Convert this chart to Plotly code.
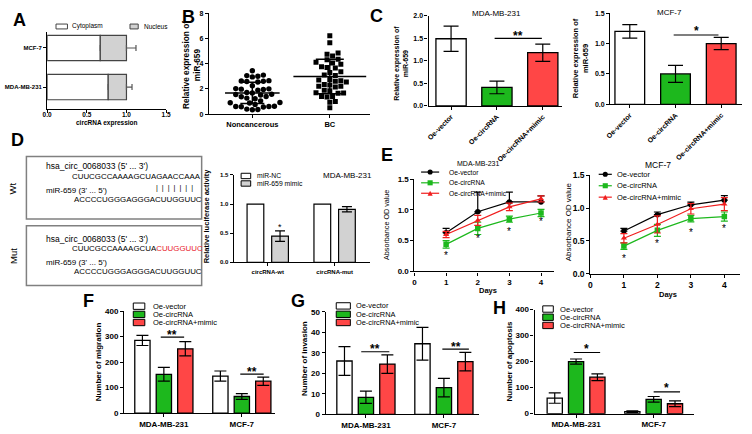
import numpy as np
import plotly.graph_objects as go

W, H = 752, 434
FONT = "Liberation Sans, Arial, sans-serif"
GREEN = "#1db81d"
RED = "#ff4646"
GREY = "#d2d2d2"

# ---------------- data ----------------
# A  subcellular localisation
a_cells = ["MDA-MB-231", "MCF-7"]
a_cyto = [0.77, 0.67]
a_cyto_err = [0.07, 0.12]
a_nucl = [0.23, 0.33]
a_nucl_err = [0.07, 0.12]

# B  miR-659 in tissue
b_groups = ["Noncancerous", "BC"]
b_noncancer = [3.43, 3.09, 3.05, 3.0, 2.95, 2.65, 2.62, 2.6, 2.58, 2.55, 2.25,
               2.02, 2.0, 1.98, 1.95, 1.9, 1.72, 1.68, 1.58, 1.55, 1.52, 1.4, 1.38,
               1.27, 1.22, 1.05, 0.92, 0.9, 0.88, 0.77, 0.62, 0.6, 0.58, 0.6, 0.57,
               0.4, 0.37, 0.35]
b_bc = [6.2, 5.65, 4.85, 4.75, 4.6, 4.35, 4.3, 4.1, 4.05, 3.95, 3.75, 3.7, 3.65,
        3.35, 3.3, 3.1, 3.05, 2.75, 2.7, 2.65, 2.6, 2.55, 2.35, 2.3, 2.2, 2.2, 2.15,
        1.9, 1.85, 1.7, 1.68, 1.65, 1.4, 1.4, 1.35, 1.0, 0.95, 0.5]
b_mean = [1.68, 2.98]
b_sd = [0.84, 1.37]

# C  miR-659 after overexpression
oe_groups = ["Oe-vector", "Oe-circRNA", "Oe-circRNA+mimic"]
c_mda = [1.49, 0.41, 1.18]
c_mda_err = [0.28, 0.14, 0.19]
c_mcf = [1.20, 0.50, 1.00]
c_mcf_err = [0.11, 0.14, 0.10]

# D  luciferase
d_constructs = ["circRNA-wt", "circRNA-mut"]
d_nc = [1.0, 1.0]
d_mimic = [0.45, 0.91]
d_mimic_err = [0.09, 0.045]

# E  proliferation (CCK-8)
days = [1, 2, 3, 4]
e_mda_vec = [0.63, 0.97, 1.13, 1.13]
e_mda_vec_err = [0.07, 0.32, 0.16, 0.10]
e_mda_circ = [0.44, 0.70, 0.85, 0.95]
e_mda_circ_err = [0.06, 0.10, 0.05, 0.06]
e_mda_mim = [0.60, 0.83, 1.05, 1.18]
e_mda_mim_err = [0.05, 0.08, 0.06, 0.05]
e_mda_star = [0.30, 0.57, 0.69, 0.86]
e_mcf_vec = [0.65, 0.90, 1.05, 1.12]
e_mcf_vec_err = [0.04, 0.04, 0.04, 0.07]
e_mcf_circ = [0.42, 0.66, 0.84, 0.87]
e_mcf_circ_err = [0.05, 0.09, 0.05, 0.07]
e_mcf_mim = [0.54, 0.75, 0.99, 1.06]
e_mcf_mim_err = [0.07, 0.13, 0.08, 0.10]
e_mcf_star = [0.27, 0.50, 0.67, 0.73]

# F/G/H  migration, invasion, apoptosis
cells = ["MDA-MB-231", "MCF-7"]
f_vec, f_vec_err = [285, 145], [20, 20]
f_circ, f_circ_err = [152, 65], [27, 11]
f_mim, f_mim_err = [252, 125], [28, 16]
g_vec, g_vec_err = [26, 34.4], [7, 8]
g_circ, g_circ_err = [8.3, 13], [3, 4.5]
g_mim, g_mim_err = [24.5, 25.7], [4.5, 4.5]
h_vec, h_vec_err = [60, 8], [20, 3]
h_circ, h_circ_err = [200, 55], [10, 11]
h_mim, h_mim_err = [140, 38], [13, 11]


# ---------------- helpers ----------------
def xdom(a, b):
    return [a / W, b / W]


def ydom(top, bottom):
    return [1 - bottom / H, 1 - top / H]


def axstyle(size=7, bold=True, **kw):
    d = dict(showline=True, linecolor="black", linewidth=1.2, ticks="outside",
             ticklen=3, tickwidth=1.2, tickcolor="black", showgrid=False,
             zeroline=False,
             tickfont=dict(family=FONT, size=size, color="black",
                           weight="bold" if bold else "normal"))
    d.update(kw)
    return d


annotations = []
shapes = []


def txt(x, y, s, size=8, bold=False, angle=0, xanchor="center", color="black"):
    annotations.append(dict(xref="paper", yref="paper", x=x / W, y=1 - y / H,
                            text=s, showarrow=False, textangle=angle,
                            xanchor=xanchor, yanchor="middle",
                            font=dict(family=FONT, size=size, color=color,
                                      weight="bold" if bold else "normal")))


def prect(x0, y0, x1, y1, fill, line="black", lw=1):
    shapes.append(dict(type="rect", xref="paper", yref="paper",
                       x0=x0 / W, x1=x1 / W, y0=1 - y0 / H, y1=1 - y1 / H,
                       fillcolor=fill, line=dict(color=line, width=lw)))


def bar_legend(x, ys, labels, colors, bw, bh, tx, size):
    for y, lab, col in zip(ys, labels, colors):
        prect(x, y - bh / 2, x + bw, y + bh / 2, col)
        txt(tx, y, lab, size, xanchor="left")


def line_legend(x0, x1, ys, labels, colors, symbols, tx, size):
    xm = (x0 + x1) / 2
    r = 2.6
    for y, lab, col, sym in zip(ys, labels, colors, symbols):
        shapes.append(dict(type="line", xref="paper", yref="paper",
                           x0=x0 / W, x1=x1 / W, y0=1 - y / H, y1=1 - y / H,
                           line=dict(color=col, width=1.2)))
        if sym == "circle":
            shapes.append(dict(type="circle", xref="paper", yref="paper",
                               x0=(xm - r) / W, x1=(xm + r) / W,
                               y0=1 - (y - r) / H, y1=1 - (y + r) / H,
                               fillcolor=col, line=dict(color=col, width=0)))
        elif sym == "square":
            prect(xm - r, y - r, xm + r, y + r, col, col, 0)
        else:
            path = "M{},{} L{},{} L{},{} Z".format(
                (xm - r) / W, 1 - (y + r) / H, (xm + r) / W, 1 - (y + r) / H,
                xm / W, 1 - (y - r) / H)
            shapes.append(dict(type="path", xref="paper", yref="paper", path=path,
                               fillcolor=col, line=dict(color=col, width=0)))
        txt(tx, y, lab, size, xanchor="left")


def sig(ax, x0, x1, y, label, size=12, lift=2.5):
    shapes.append(dict(type="line", xref=f"x{ax}", yref=f"y{ax}", x0=x0, x1=x1,
                       y0=y, y1=y, line=dict(color="black", width=1.2)))
    annotations.append(dict(xref=f"x{ax}", yref=f"y{ax}", x=(x0 + x1) / 2, y=y,
                            text=label, showarrow=False, yanchor="middle",
                            yshift=lift, font=dict(family=FONT, size=size,
                                                   color="black", weight="bold")))


def swarm(values, ppx, ppy, gap=5.6):
    vals = np.asarray(values, dtype=float)
    offs = np.zeros(len(vals))
    cands = [0.0]
    for k in range(1, 14):
        cands += [k * gap / 2, -k * gap / 2]
    placed = []
    for i in np.argsort(vals):
        yv = vals[i] * ppy
        for c in cands:
            if all((c - px_) ** 2 + (yv - py_) ** 2 >= gap ** 2 for px_, py_ in placed):
                break
        placed.append((c, yv))
        offs[i] = c / ppx
    return offs


fig = go.Figure()
EB = dict(type="data", color="black", thickness=1.2)

# ---------------- A ----------------
fig.add_trace(go.Bar(y=a_cells, x=a_cyto, orientation="h", width=0.65,
                     marker=dict(color="white", line=dict(color="#444", width=1.2)),
                     error_x=dict(type="data", array=a_cyto_err, arrayminus=[0, 0],
                                  color="#555", thickness=1.2, width=3),
                     xaxis="x", yaxis="y"))
fig.add_trace(go.Bar(y=a_cells, x=a_nucl, base=a_cyto, orientation="h", width=0.65,
                     marker=dict(color=GREY, line=dict(color="#444", width=1.2)),
                     error_x=dict(type="data", array=a_nucl_err, arrayminus=[0, 0],
                                  color="#555", thickness=1.2, width=3),
                     xaxis="x", yaxis="y"))

# ---------------- B ----------------
ppx_b, ppy_b = 78.6, 103.4 / 8
fig.add_trace(go.Scatter(x=0 + swarm(b_noncancer, ppx_b, ppy_b), y=b_noncancer,
                         mode="markers", marker=dict(symbol="circle", size=5.4, color="black"),
                         xaxis="x2", yaxis="y2"))
fig.add_trace(go.Scatter(x=1 + swarm(b_bc, ppx_b, ppy_b), y=b_bc,
                         mode="markers", marker=dict(symbol="square", size=5, color="black"),
                         xaxis="x2", yaxis="y2"))
for i, (mw, cw) in enumerate([(39, 12), (52, 14)]):
    fig.add_trace(go.Scatter(x=[i], y=[b_mean[i]], mode="markers",
                             marker=dict(symbol="line-ew", size=mw,
                                         line=dict(color="black", width=1.5)),
                             error_y=dict(EB, array=[b_sd[i]], width=cw, thickness=1.4),
                             xaxis="x2", yaxis="y2"))

# ---------------- C ----------------
for ax, vals, errs, wd in [(3, c_mda, c_mda_err, 0.66), (4, c_mcf, c_mcf_err, 0.65)]:
    fig.add_trace(go.Bar(x=oe_groups, y=vals, width=wd,
                         marker=dict(color=["white", GREEN, RED],
                                     line=dict(color="black", width=1.3)),
                         error_y=dict(EB, array=errs, width=7.5),
                         xaxis=f"x{ax}", yaxis=f"y{ax}"))

# ---------------- D ----------------
fig.add_trace(go.Bar(x=d_constructs, y=d_nc, width=0.25, offset=-0.309,
                     marker=dict(color="white", line=dict(color="black", width=1.2)),
                     xaxis="x5", yaxis="y5"))
fig.add_trace(go.Bar(x=d_constructs, y=d_mimic, width=0.25, offset=0.059,
                     marker=dict(color=GREY, line=dict(color="black", width=1.2)),
                     error_y=dict(EB, array=d_mimic_err, width=5),
                     xaxis="x5", yaxis="y5"))

# ---------------- E ----------------
for ax, series in [(6, [(e_mda_vec, e_mda_vec_err, "black", "circle", True),
                        (e_mda_circ, e_mda_circ_err, GREEN, "square", False),
                        (e_mda_mim, e_mda_mim_err, "#f01e1e", "triangle-up", False)]),
                   (7, [(e_mcf_vec, e_mcf_vec_err, "black", "circle", True),
                        (e_mcf_circ, e_mcf_circ_err, GREEN, "square", False),
                        (e_mcf_mim, e_mcf_mim_err, "#f01e1e", "triangle-up", False)])]:
    for vals, errs, col, sym, up in series:
        eb = dict(type="data", array=errs, color=col, thickness=1.2, width=3.5)
        if up:
            eb["arrayminus"] = [0] * len(errs)
        fig.add_trace(go.Scatter(x=days, y=vals, mode="lines+markers",
                                 line=dict(color=col, width=1.2),
                                 marker=dict(symbol=sym, size=5.5, color=col),
                                 error_y=eb, xaxis=f"x{ax}", yaxis=f"y{ax}"))

for ax, stars in [(6, e_mda_star), (7, e_mcf_star)]:
    for d, s in zip(days, stars):
        annotations.append(dict(xref=f"x{ax}", yref=f"y{ax}", x=d, y=s, text="*",
                                showarrow=False, yanchor="middle", yshift=-2.5,
                                font=dict(family=FONT, size=10, color="black")))

# ---------------- F / G / H ----------------
for ax, groups in [(8, [(f_vec, f_vec_err), (f_circ, f_circ_err), (f_mim, f_mim_err)]),
                   (9, [(g_vec, g_vec_err), (g_circ, g_circ_err), (g_mim, g_mim_err)]),
                   (10, [(h_vec, h_vec_err), (h_circ, h_circ_err), (h_mim, h_mim_err)])]:
    for (vals, errs), col, off in zip(groups, ["white", GREEN, RED], [-0.373, -0.098, 0.177]):
        fig.add_trace(go.Bar(x=cells, y=vals, width=0.196, offset=off,
                             marker=dict(color=col, line=dict(color="black", width=1.3)),
                             error_y=dict(EB, array=errs, width=6),
                             xaxis=f"x{ax}", yaxis=f"y{ax}"))

# significance marks
sig(3, 0.95, 1.98, 1.5, "**", 12, 2.5)
sig(4, 0.96, 1.94, 1.14, "*", 12, 4)
sig(8, -0.04, 0.26, 298, "**", 12, 2.5)
sig(8, 0.98, 1.28, 153, "**", 12, 2.5)
sig(9, -0.06, 0.30, 30.5, "**", 12, 2.5)
sig(9, 0.98, 1.32, 31.8, "**", 12, 2.5)
sig(10, -0.03, 0.31, 235, "*", 12, 3.5)
sig(10, 1.0, 1.34, 84, "*", 12, 3.5)
annotations.append(dict(xref="x5", yref="y5", x=0.184, y=0.64, text="*",
                        showarrow=False, yanchor="middle", yshift=-2,
                        font=dict(family=FONT, size=9, color="black")))

# ---------------- layout ----------------
lay = dict(width=W, height=H, margin=dict(l=0, r=0, t=0, b=0),
           paper_bgcolor="white", plot_bgcolor="white", showlegend=False,
           barmode="overlay", font=dict(family=FONT, color="black"))

lay["xaxis"] = axstyle(6.5, domain=xdom(42.7, 163.3), range=[0, 1.5], dtick=0.5,
                       tickformat=".1f", anchor="y", ticklabelstandoff=-3)
lay["yaxis"] = axstyle(6, domain=ydom(28, 106), range=[-0.55, 1.4], type="category",
                       anchor="x")
lay["xaxis2"] = axstyle(7.5, domain=xdom(206.7, 370), range=[-0.56, 1.52],
                        tickvals=[0, 1], ticktext=b_groups, anchor="y2")
lay["yaxis2"] = axstyle(7, domain=ydom(8.3, 111.7), range=[0, 8], dtick=2, anchor="x2")
lay["xaxis3"] = axstyle(7, domain=xdom(429.3, 565), range=[-0.49, 2.43], tickangle=-45,
                        anchor="y3")
lay["yaxis3"] = axstyle(7, domain=ydom(11, 103.3), range=[0, 2], dtick=0.5,
                        tickformat=".1f", anchor="x3")
lay["xaxis4"] = axstyle(7, domain=xdom(613.3, 746.7), range=[-0.43, 2.45], tickangle=-45,
                        anchor="y4")
lay["yaxis4"] = axstyle(7, domain=ydom(8.3, 101.7), range=[0, 1.5], dtick=0.5,
                        tickformat=".1f", anchor="x4")
lay["xaxis5"] = axstyle(6, domain=xdom(231.7, 370), range=[-0.51, 1.53], anchor="y5")
lay["yaxis5"] = axstyle(6, domain=ydom(174, 263.3), range=[0, 1.5], dtick=0.5,
                        tickformat=".1f", anchor="x5")
lay["xaxis6"] = axstyle(8, domain=xdom(415, 556.7), range=[0, 4.42], dtick=1, anchor="y6")
lay["yaxis6"] = axstyle(8, domain=ydom(178.3, 272.7), range=[0, 1.5], dtick=0.5,
                        tickformat=".1f", anchor="x6")
lay["xaxis7"] = axstyle(8.5, domain=xdom(593.3, 745), range=[0, 4.47], dtick=1, anchor="y7")
lay["yaxis7"] = axstyle(8.5, domain=ydom(174.3, 275), range=[0, 1.5], dtick=0.5,
                        tickformat=".1f", anchor="x7")
lay["xaxis8"] = axstyle(8, domain=xdom(120.7, 274), range=[-0.51, 1.43], anchor="y8")
lay["yaxis8"] = axstyle(8, domain=ydom(313.3, 417.7), range=[0, 400], dtick=100, anchor="x8")
lay["xaxis9"] = axstyle(8, domain=xdom(325, 480), range=[-0.516, 1.445], anchor="y9")
lay["yaxis9"] = axstyle(8, domain=ydom(314, 419), range=[0, 50], dtick=10, anchor="x9")
lay["xaxis10"] = axstyle(8, domain=xdom(536.7, 698.3), range=[-0.535, 1.52], anchor="y10")
lay["yaxis10"] = axstyle(8, domain=ydom(311.7, 418.3), range=[0, 400], dtick=100,
                         anchor="x10")

# panel letters
for lab, x, y in [("A", 15, 15), ("B", 186, 12), ("C", 377, 11), ("D", 13, 138),
                  ("E", 387, 154), ("F", 85, 303), ("G", 297, 303), ("H", 501, 310)]:
    txt(x, y, lab, 18, bold=True)

# A texts
prect(51.7, 19.5, 63.3, 24.5, "white", "#444")
txt(66, 22, "Cytoplasm", 6.5, xanchor="left")
prect(126.7, 19.5, 135, 24.5, GREY, "#444")
txt(138.5, 22, "Nucleus", 6.5, xanchor="left")
txt(103, 121, "circRNA expression", 6.5, bold=True)

# B texts
txt(189, 61, "Relative expression of<br>miR-659", 8.3, bold=True, angle=-90)

# C texts
txt(498, 9, "MDA-MB-231", 8)
txt(400.5, 60, "Relative expression of<br>miR-659", 7, bold=True, angle=-90)
txt(673, 8, "MCF-7", 8)
txt(583.3, 55, "Relative expression of<br>miR-659", 7.5, bold=True, angle=-90)

# D sequence boxes
prect(21.7, 155, 199.3, 219, "white", "#808080", 1.5)
prect(21.7, 226, 199.3, 287, "white", "#808080", 1.5)
txt(8, 188, "Wt", 9.5, angle=-90)
txt(8, 257, "Mut", 9.5, angle=-90)
SEQ = 7.9
txt(40, 165, "hsa_circ_0068033 (5' ... 3')", 8.5, xanchor="left")
txt(65.7, 175.5, "CUUCGCCAAAAGCUAGAACCAAA", SEQ, xanchor="left")
txt(151, 187, "|" + "\u00a0\u00a0|" * 6, 7.2, xanchor="left")
txt(40, 190.3, "miR-659 (3' ... 5')", 8, xanchor="left")
txt(68.3, 199, "ACCCCUGGGAGGGACUUGGUUC", SEQ, xanchor="left")
txt(40, 240, "hsa_circ_0068033 (5' ... 3')", 8.5, xanchor="left")
txt(65.7, 249.5, "CUUCGCCAAAAGCUA<span style='color:#e8202a'>CUUGGUUC</span>", SEQ,
    xanchor="left")
txt(40, 264, "miR-659 (3' ... 5')", 8, xanchor="left")
txt(68.3, 272.5, "ACCCCUGGGAGGGACUUGGUUC", SEQ, xanchor="left")

# D chart texts
txt(204, 216, "Relative luciferase activity", 7.5, bold=True, angle=-90)
bar_legend(239.3, [175, 182.7], ["miR-NC", "miR-659 mimic"], ["white", GREY],
           9.7, 5.5, 253.3, 6.8)
txt(346.7, 175, "MDA-MB-231", 8)

# E texts
txt(480, 162.7, "MDA-MB-231", 7)
txt(387.3, 225, "Absorbance OD value", 7.2, angle=-90)
txt(490, 292, "Days", 7.5, bold=True)
line_legend(421.7, 440, [171, 182, 192.7], oe_groups, ["black", GREEN, "#f01e1e"],
            ["circle", "square", "tri"], 448.3, 6.7)
txt(661.7, 163.3, "MCF-7", 8.5)
txt(571, 222, "Absorbance OD value", 8, angle=-90)
txt(671.7, 296.7, "Days", 7.5, bold=True)
line_legend(601.7, 615, [173.3, 185, 196.7], oe_groups, ["black", GREEN, "#f01e1e"],
            ["circle", "square", "tri"], 618.3, 7.5)

# F/G/H texts
txt(95, 365, "Number of migration", 8, bold=True, angle=-90)
bar_legend(130, [308.3, 316.7, 325], oe_groups, ["white", GREEN, RED], 11.7, 6.5, 148.3, 7.5)
txt(303.3, 362, "Number of invasion", 8, bold=True, angle=-90)
bar_legend(335.7, [308, 316.6, 325], oe_groups, ["white", GREEN, RED], 14.3, 6.5, 353.3, 7.4)
txt(511.7, 364, "Number of apoptosis", 8, bold=True, angle=-90)
bar_legend(545, [311.2, 319.6, 328], oe_groups, ["white", GREEN, RED], 10.7, 6.5, 560.7, 7.6)

lay["annotations"] = annotations
lay["shapes"] = shapes
fig.update_layout(**lay)
# the page body has a default 8px margin; drop it so the figure fills the window
fig.write_html("out.html", config={"displayModeBar": False},
               post_script="document.body.style.margin='0';")
